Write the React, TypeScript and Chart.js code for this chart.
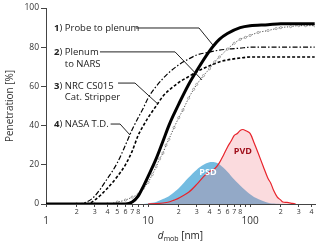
import React, { useEffect, useRef } from 'react';
import { Chart, registerables } from 'chart.js';
Chart.register(...registerables);

const FONT = '"Open Sans", "Noto Sans", sans-serif';

// 1) Probe to plenum (thick solid)
const dProbe = [1, 5, 6, 7, 8, 9, 10, 12, 14, 16, 18, 20, 25, 30, 40, 50, 60, 80, 100, 150, 200, 300, 430];
const penProbe = [0, 0, 0, 1, 4, 9, 14, 23, 32, 40, 46, 51, 61, 68, 78, 84, 87, 90, 91, 91.5, 92, 92, 92];

// 2) Plenum to NARS (dotted with circles)
const dPlenum = [1, 2, 3, 4, 5, 6, 7, 8, 9, 10, 11, 12, 13, 14, 15, 16, 18, 20, 22, 25, 28, 30, 35, 40, 45, 50, 60, 70, 80, 90, 100, 120, 150, 180, 200, 250, 300, 350, 430];
const penPlenum = [0, 0, 0, 0, 1, 2, 3.5, 5, 8, 11, 15, 19, 23, 26, 30, 33, 39, 44, 48, 54, 58.5, 61, 65.5, 69, 72.5, 75, 79, 82, 84, 85, 86, 87.5, 88.5, 89.5, 90, 90.5, 91, 91, 91];

// 3) NRC CS015 Cat. Stripper (dashed)
const dNrc = [1, 2.5, 3, 4, 5, 6, 7, 8, 9, 10, 12, 14, 16, 20, 25, 30, 40, 50, 60, 80, 100, 200, 430];
const penNrc = [0, 0, 2, 8, 14, 20, 27, 35, 40, 44, 50, 55, 58, 62, 65, 67.5, 70.5, 72.5, 73.5, 74.5, 75, 75, 75];

// 4) NASA T.D. (dash-dot)
const dNasa = [1, 2, 2.5, 3, 4, 5, 6, 7, 8, 9, 10, 12, 14, 16, 20, 25, 30, 40, 50, 60, 80, 100, 200, 430];
const penNasa = [0, 0, 1, 4, 13, 21, 30, 38, 44, 49, 54, 60, 64, 67, 71, 74, 76, 77.5, 78.5, 79, 79.5, 80, 80, 80];

// PSD (blue)
const dPsd = [9, 10, 12, 14, 16, 18, 20, 25, 30, 35, 40, 45, 50, 60, 70, 80, 100, 120, 150, 180, 200];
const valPsd = [0, 0.3, 1, 2.5, 4, 6, 8, 13.5, 17.5, 20, 21.3, 21.3, 20.3, 16.5, 12.5, 9.5, 5, 2.5, 0.6, 0.1, 0];

// PVD (red)
const dPvd = [10, 12, 14, 16, 18, 20, 25, 30, 35, 40, 45, 50, 55, 60, 65, 70, 75, 80, 85, 90, 100, 110, 120, 135, 150, 160, 170, 185, 200, 210, 230, 260, 280];
const valPvd = [0, 0.2, 0.5, 1, 2, 3, 6, 10, 14, 16.5, 18, 21, 25, 29, 32, 35, 36, 37.5, 38, 37.5, 36, 31, 26, 19, 13, 10.5, 7, 3.5, 2, 1, 0.8, 0.3, 0];

const xTickVals = [1, 2, 3, 4, 5, 6, 7, 8, 9, 10, 20, 30, 40, 50, 60, 70, 80, 90, 100, 200, 300, 400];
const xMajor = [1, 10, 100];
const xMinor = [2, 3, 4, 5, 6, 7, 8, 20, 30, 40, 50, 60, 70, 80, 200, 300, 400];

const seriesNum = ['1)', '2)', '3)', '4)'];
const seriesText = [['Probe to plenum'], ['Plenum', 'to NARS'], ['NRC CS015', 'Cat. Stripper'], ['NASA T.D.']];

const pts = (xs: number[], ys: number[]) => xs.map((x, i) => ({ x, y: ys[i] }));
const significand = (v: number) => String(Math.round(v / Math.pow(10, Math.floor(Math.log10(v) + 1e-9))));

// annotation layout (in data coordinates)
const annoLayout = [
  { tx: 1.2, ty: 89.8, leader: [[7.62, 89.8], [31.6, 89.8], [43.2, 81.1]] },
  { tx: 1.2, ty: 77.3, leader: [[3.38, 77.6], [18.4, 77.6], [33.8, 63.3]] },
  { tx: 1.2, ty: 60.2, leader: [[5.08, 61.7], [7.45, 61.7], [12.5, 51]] },
  { tx: 1.2, ty: 40.6, leader: [[4.3, 40.8], [5.32, 40.8], [6.66, 35.2]] },
];

const overlay = {
  id: 'overlay',
  afterDraw(chart: any) {
    const ctx = chart.ctx;
    const xs = chart.scales.x;
    const ys = chart.scales.y;
    const ca = chart.chartArea;
    ctx.save();
    // x tick labels
    ctx.fillStyle = '#333';
    ctx.textAlign = 'center';
    ctx.textBaseline = 'middle';
    ctx.font = `10px ${FONT}`;
    xMajor.forEach((v) => ctx.fillText(String(v), xs.getPixelForValue(v), ca.bottom + 17));
    ctx.font = `7px ${FONT}`;
    xMinor.forEach((v) => ctx.fillText(significand(v), xs.getPixelForValue(v), ca.bottom + 8));

    // x title
    ctx.textAlign = 'left';
    ctx.fillStyle = '#222';
    const cx = (ca.left + ca.right) / 2;
    ctx.font = `italic 10px ${FONT}`;
    const wD = ctx.measureText('d').width;
    ctx.font = `7px ${FONT}`;
    const wSub = ctx.measureText('mob').width;
    ctx.font = `10px ${FONT}`;
    const wRest = ctx.measureText(' [nm]').width;
    let tx = cx - (wD + wSub + wRest) / 2;
    const ty = ca.bottom + 32;
    ctx.font = `italic 10px ${FONT}`;
    ctx.fillText('d', tx, ty);
    tx += wD;
    ctx.font = `7px ${FONT}`;
    ctx.fillText('mob', tx, ty + 3);
    tx += wSub;
    ctx.font = `10px ${FONT}`;
    ctx.fillText(' [nm]', tx, ty);

    // y title
    ctx.save();
    ctx.translate(10, (ca.top + ca.bottom) / 2);
    ctx.rotate(-Math.PI / 2);
    ctx.textAlign = 'center';
    ctx.font = `10px ${FONT}`;
    ctx.fillStyle = '#333';
    ctx.fillText('Penetration [%]', 0, 0);
    ctx.restore();

    // PSD / PVD labels
    ctx.textAlign = 'center';
    ctx.font = `bold 9px ${FONT}`;
    ctx.fillStyle = '#ffffff';
    ctx.fillText('PSD', xs.getPixelForValue(38.7), ys.getPixelForValue(16.3));
    ctx.fillStyle = '#a0101c';
    ctx.fillText('PVD', xs.getPixelForValue(85), ys.getPixelForValue(27));

    // series annotations
    annoLayout.forEach((a, i) => {
      const px = xs.getPixelForValue(a.tx);
      const py = ys.getPixelForValue(a.ty);
      ctx.textAlign = 'left';
      ctx.fillStyle = '#222';
      ctx.font = `bold 9.5px ${FONT}`;
      const num = seriesNum[i];
      ctx.fillText(num[0], px, py);
      const wn = ctx.measureText(num[0]).width;
      ctx.font = `9.5px ${FONT}`;
      ctx.fillText(num.slice(1) + ' ' + seriesText[i][0], px + wn, py);
      const indent = wn + ctx.measureText(num.slice(1) + ' ').width;
      for (let k = 1; k < seriesText[i].length; k++) {
        ctx.fillText(seriesText[i][k], px + indent, py + 11.5 * k);
      }
      ctx.beginPath();
      ctx.strokeStyle = '#222';
      ctx.lineWidth = 1;
      a.leader.forEach((p, j) => {
        const lx = xs.getPixelForValue(p[0]);
        const ly = ys.getPixelForValue(p[1]);
        if (j === 0) ctx.moveTo(lx, ly);
        else ctx.lineTo(lx, ly);
      });
      ctx.stroke();
    });
    ctx.restore();
  },
};

export default function App() {
  const ref = useRef<HTMLCanvasElement>(null);
  useEffect(() => {
    document.body.style.margin = '0';
    const chart = new Chart(ref.current!, {
      type: 'line',
      data: {
        datasets: [
          {
            label: 'Probe to plenum',
            data: pts(dProbe, penProbe),
            borderColor: '#000',
            borderWidth: 3,
            pointRadius: 0,
            cubicInterpolationMode: 'monotone',
            fill: false,
          },
          {
            label: 'Plenum to NARS',
            data: pts(dPlenum, penPlenum),
            borderColor: '#333',
            borderWidth: 0.9,
            borderDash: [1.2, 1.6],
            pointRadius: 1.1,
            pointStyle: 'circle',
            pointBackgroundColor: '#fff',
            pointBorderColor: '#777',
            pointBorderWidth: 0.6,
            cubicInterpolationMode: 'monotone',
            fill: false,
          },
          {
            label: 'NRC CS015',
            data: pts(dNrc, penNrc),
            borderColor: '#000',
            borderWidth: 1.6,
            borderDash: [3, 2],
            pointRadius: 0,
            cubicInterpolationMode: 'monotone',
            fill: false,
          },
          {
            label: 'NASA T.D.',
            data: pts(dNasa, penNasa),
            borderColor: '#000',
            borderWidth: 1.2,
            borderDash: [5, 2, 1.5, 2],
            pointRadius: 0,
            cubicInterpolationMode: 'monotone',
            fill: false,
          },
          {
            label: 'PVD',
            data: pts(dPvd, valPvd),
            borderColor: '#e8242c',
            borderWidth: 1.2,
            backgroundColor: 'rgba(240, 110, 125, 0.25)',
            pointRadius: 0,
            tension: 0.3,
            fill: 'origin',
          },
          {
            label: 'PSD',
            data: pts(dPsd, valPsd),
            borderColor: 'rgba(0,0,0,0)',
            borderWidth: 0,
            backgroundColor: 'rgba(70, 165, 215, 0.75)',
            pointRadius: 0,
            tension: 0.3,
            fill: 'origin',
          },
        ],
      },
      options: {
        animation: false,
        responsive: false,
        maintainAspectRatio: false,
        layout: { padding: { top: 8, right: 5, left: 0, bottom: 0 } },
        plugins: { legend: { display: false }, tooltip: { enabled: false } },
        scales: {
          x: {
            type: 'logarithmic',
            min: 1,
            max: 433,
            afterBuildTicks: (scale: any) => {
              scale.ticks = xTickVals.map((v) => ({ value: v }));
            },
            afterFit: (scale: any) => {
              scale.height = 42;
            },
            ticks: { display: false },
            grid: { drawOnChartArea: false, drawTicks: true, tickLength: 3, color: '#444' },
            border: { display: true, color: '#444', width: 1 },
          },
          y: {
            min: 0,
            max: 100,
            afterFit: (scale: any) => {
              scale.width = 46;
            },
            ticks: { stepSize: 20, color: '#333', font: { size: 8.5, family: FONT }, padding: 2 },
            grid: { drawOnChartArea: false, drawTicks: true, tickLength: 5, color: '#444' },
            border: { display: true, color: '#444', width: 1 },
          },
        },
      },
      plugins: [overlay],
    } as any);
    return () => chart.destroy();
  }, []);
  return (
    <div style={{ position: 'fixed', left: 0, top: 0, width: 320, height: 246 }}>
      <canvas ref={ref} width={320} height={246} style={{ width: 320, height: 246 }} />
    </div>
  );
}
